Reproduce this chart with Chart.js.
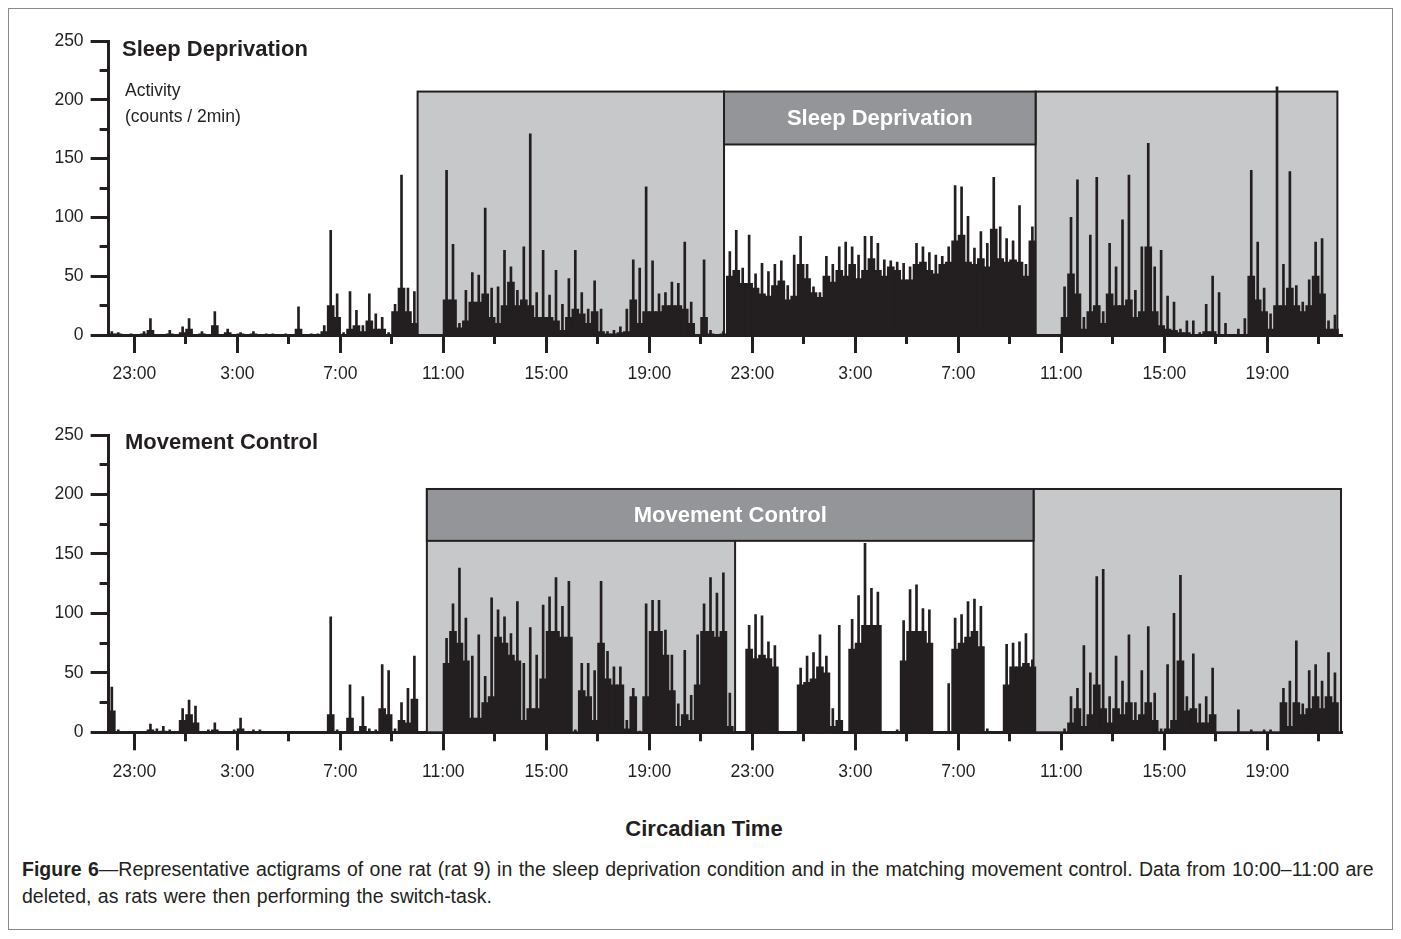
<!DOCTYPE html>
<html>
<head>
<meta charset="utf-8">
<title>Actigrams – rat 9</title>
<script src="https://cdn.jsdelivr.net/npm/chart.js@4.4.1/dist/chart.umd.min.js"></script>
<style>
  html, body { margin: 0; padding: 0; background: #fff; }
  body { width: 1401px; height: 939px; overflow: hidden; position: relative;
         font-family: "Liberation Sans", Arial, Helvetica, sans-serif; color: #231f20; }
  .frame { position: absolute; left: 8px; top: 8px; width: 1385px; height: 922px;
           border: 1px solid #8a8a8a; box-sizing: border-box; }
  canvas { position: absolute; left: 0; }
  .t { position: absolute; white-space: nowrap; line-height: 1; }
  .b { font-weight: bold; font-size: 22px; }
  .unit { font-size: 17.5px; }
  .cap { position: absolute; left: 22px; top: 856px; font-size: 19.5px; line-height: 27px;
         word-spacing: 1px; white-space: nowrap; }
</style>
</head>
<body>
<div class="frame"></div>
<canvas id="sdChart" width="1401" height="400" style="top:0px"></canvas>
<canvas id="mcChart" width="1401" height="400" style="top:398px"></canvas>

<div class="t b" style="left:122px;top:38px">Sleep Deprivation</div>
<div class="t unit" style="left:125px;top:82px">Activity</div>
<div class="t unit" style="left:125px;top:108px">(counts / 2min)</div>
<div class="t b" style="left:125px;top:431px">Movement Control</div>
<div class="t b" style="left:704px;top:818px;transform:translateX(-50%)">Circadian Time</div>
<div class="cap"><b>Figure 6</b>—Representative actigrams of one rat (rat 9) in the sleep deprivation condition and in the matching movement control. Data from 10:00–11:00 are<br>deleted, as rats were then performing the switch-task.</div>

<script>
// ---- time base: 15-min bins, first bin starts at 22:00 (hour 0) ----
const binMinutes = 15;
const axisEndHour = 47.9;
const labelledTickHours = [1, 5, 9, 13, 17, 21, 25, 29, 33, 37, 41, 45];
const minorTickHours = [3, 7, 11, 15, 19, 23, 27, 31, 35, 39, 43, 47];
const timeLabels = ['23:00', '3:00', '7:00', '11:00', '15:00', '19:00',
                    '23:00', '3:00', '7:00', '11:00', '15:00', '19:00'];

// ---- Sleep deprivation: peak counts per bin and the bulk level per bin ----
const sdPeak = [
  3,2,0,1,0,3,14,0,0,4, 0,7,14,0,3,0,20,0,5,0, 2,0,3,0,1,1,0,1,0,24,
  0,1,1,8,89,35,2,37,21,8, 35,18,15,2,26,136,40,37,
  0,0,0,0, 140,77,10,38,53,51,108,40,41,72, 58,38,75,171,36,72,34,55,26,48,
  72,36,22,46,22,3,4,7,22,64, 57,126,63,35,36,45,44,79,28,0, 64,4,0,3,
  71,89,57,85,52,61,54,60,63,42, 68,84,60,41,36,67,60,75,79,75,
  68,84,84,78,64,63,62,61,58,78, 75,70,68,67,75,127,126,101,74,88,
  78,134,92,82,80,110,60,92,
  0,0,0,0, 41,100,132,15,85,134, 20,78,58,98,136,38,75,163,58,72,
  33,28,5,12,12,2,26,50,36,10, 0,5,14,140,79,40,18,211,60,139,
  42,28,47,79,82,12,17
];
const sdBulk = [
  1,1,0,0,0,1,4,0,0,1, 0,2,5,0,1,0,8,0,2,0, 1,0,1,0,0,0,0,0,0,5,
  0,0,0,3,25,15,0,5,8,3, 12,5,5,0,20,40,20,10,
  0,0,0,0, 30,30,6,12,28,28,35,15,10,25, 45,25,30,25,15,15,15,12,4,15,
  22,18,10,20,3,1,1,2,3,30, 10,20,20,20,25,25,25,22,10,0, 15,1,0,1,
  50,55,44,44,40,35,33,42,46,30, 33,60,48,36,32,50,45,55,50,60,
  48,55,65,55,50,58,55,47,47,60, 62,55,52,60,62,80,85,62,60,65,
  58,90,65,62,64,62,50,80,
  0,0,0,0, 15,52,35,5,20,25, 10,35,25,25,30,15,20,75,20,8,
  5,4,2,2,0,0,3,3,0,0, 0,0,0,50,30,20,5,25,25,40,
  25,20,25,50,35,5,5
];

// ---- Movement control ----
const mcPeak = [
  38,2,0,0,0,0,7,3,5,2, 0,20,27,22,0,2,8,0,0,2, 12,0,2,2,0,0,0,0,0,0,
  0,0,0,0,97,2,0,40,0,30, 3,2,57,52,3,25,37,64,
  0,0,0,0,
  79,108,138,96,64,82,47,113,103,97, 83,110,58,88,65,107,114,130,106,127,
  2,58,58,52,127,68,55,55,10,37, 1,108,111,111,86,65,24,69,31,82,
  108,130,117,134,33,
  0,0,90,99,98,76,73,0,0,0, 54,64,67,82,64,20,90,0,95,115,
  159,121,118,0,0,2,94,120,124,104, 103,0,0,41,96,99,110,112,106,3,
  0,0,74,75,76,83,61,
  0,0,0,0,3,30,37,73,50,131, 137,30,64,43,82,25,52,89,33,3,
  57,100,132,30,66,24,30,54,0,0, 0,19,0,2,0,2,2,0,37,43,
  77,24,52,57,43,67,50
];
const mcBulk = [
  18,0,0,0,0,0,2,0,1,0, 0,10,15,8,0,0,2,0,0,0, 3,0,0,0,0,0,0,0,0,0,
  0,0,0,0,15,0,0,12,0,5, 0,0,20,15,0,10,8,28,
  0,0,0,0,
  58,85,75,60,12,12,25,30,80,75, 65,60,10,20,20,45,85,85,80,80,
  0,35,30,10,75,45,40,40,3,30, 0,30,85,85,65,35,5,15,10,40,
  85,85,80,85,5,
  0,0,70,62,65,62,55,0,0,0, 40,42,45,55,50,5,10,0,70,75,
  90,90,90,0,0,0,60,85,85,85, 75,0,0,0,70,75,80,85,72,0,
  0,0,40,55,55,58,55,
  0,0,0,0,0,8,20,5,15,40, 20,8,20,15,25,10,15,25,10,0,
  3,10,60,18,20,8,8,15,0,0, 0,0,0,0,0,0,0,0,25,5,
  25,15,20,30,20,30,25
];

// ---- light-phase shading and protocol banners (hours from 22:00, counts) ----
const sdLightPhases = [[12, 23.9], [36, 47.72]];
const sdBannerHours = [23.9, 36];
const sdBannerCounts = [162, 207];
const mcLightPhases = [[12.36, 24.33], [35.92, 47.86]];
const mcBannerHours = [12.36, 35.92];
const mcBannerCounts = [161, 204.6];

const INK = '#231f20';
const LIGHT = '#c7c8ca';
const DARK = '#939598';
const FONT = '"Liberation Sans", Arial, Helvetica, sans-serif';

Chart.defaults.font.family = FONT;
Chart.defaults.color = INK;

function phasePlugin(lightPhases, bannerHours, bannerCounts, label) {
  return {
    id: 'phaseBoxes',
    beforeDatasetsDraw(chart) {
      const { ctx, scales: { x, y } } = chart;
      const X = v => x.getPixelForValue(v);
      const Y = v => y.getPixelForValue(v);
      const top = bannerCounts[1];
      ctx.save();
      ctx.lineWidth = 2;
      ctx.strokeStyle = INK;
      for (const [a, b] of lightPhases) {
        ctx.fillStyle = LIGHT;
        ctx.fillRect(X(a), Y(top), X(b) - X(a), Y(0) - Y(top));
        ctx.strokeRect(X(a), Y(top), X(b) - X(a), Y(0) - Y(top));
      }
      const [a, b] = bannerHours;
      ctx.fillStyle = DARK;
      ctx.fillRect(X(a), Y(top), X(b) - X(a), Y(bannerCounts[0]) - Y(top));
      ctx.strokeRect(X(a), Y(top), X(b) - X(a), Y(bannerCounts[0]) - Y(top));
      ctx.fillStyle = '#ffffff';
      ctx.font = 'bold 22px ' + FONT;
      ctx.textAlign = 'center';
      ctx.textBaseline = 'middle';
      ctx.fillText(label, (X(a) + X(b)) / 2, (Y(top) + Y(bannerCounts[0])) / 2 + 1);
      ctx.restore();
    }
  };
}

function makePanel(id, peaks, bulk, frame, plugin) {
  const binH = binMinutes / 60;
  const pts = arr => arr.map((v, i) => ({ x: (i + 0.5) * binH, y: v }));
  const tickFont = { size: 17.5, family: FONT };
  return new Chart(document.getElementById(id), {
    type: 'bar',
    data: {
      datasets: [
        { data: pts(bulk), backgroundColor: INK, borderWidth: 0, barThickness: 7, grouped: false, order: 2 },
        { data: pts(peaks), backgroundColor: INK, borderWidth: 0, barThickness: 2, grouped: false, order: 1 }
      ]
    },
    options: {
      responsive: false,
      animation: false,
      devicePixelRatio: 1,
      layout: { padding: { left: 0, right: frame.right, top: frame.top, bottom: frame.bottom } },
      plugins: { legend: { display: false }, tooltip: { enabled: false } },
      scales: {
        x: {
          type: 'linear', position: 'bottom', min: 0, max: axisEndHour, offset: false, weight: 1,
          grid: { drawOnChartArea: false, offset: false, tickLength: 18, tickWidth: 3, tickColor: INK },
          border: { display: true, width: 3, color: INK },
          afterBuildTicks: s => { s.ticks = labelledTickHours.map(v => ({ value: v })); },
          afterFit: s => { s.height = 60; },
          ticks: { autoSkip: false, maxRotation: 0, padding: 11, color: INK, font: tickFont,
                   callback: (v, i) => timeLabels[i] }
        },
        xMinor: {
          type: 'linear', position: 'bottom', min: 0, max: axisEndHour, offset: false, weight: 0,
          grid: { drawOnChartArea: false, offset: false, tickLength: 9, tickWidth: 3, tickColor: INK },
          border: { display: false },
          ticks: { display: false },
          afterBuildTicks: s => { s.ticks = minorTickHours.map(v => ({ value: v })); },
          afterFit: s => { s.height = 0; }
        },
        y: {
          type: 'linear', position: 'left', min: 0, max: 250, weight: 1,
          grid: { drawOnChartArea: false, tickLength: 18, tickWidth: 3, tickColor: INK },
          border: { display: true, width: 3, color: INK },
          ticks: { stepSize: 50, padding: 7, color: INK, font: tickFont },
          afterFit: s => { s.width = frame.left; }
        },
        yMinor: {
          type: 'linear', position: 'left', min: 0, max: 250, weight: 0,
          grid: { drawOnChartArea: false, tickLength: 9, tickWidth: 3, tickColor: INK },
          border: { display: false },
          ticks: { display: false, stepSize: 25 },
          afterFit: s => { s.width = 0; }
        }
      }
    },
    plugins: [plugin]
  });
}

const plotLeft = 108.6, pxPerHour = 25.75;
const plotRight = 1401 - (plotLeft + axisEndHour * pxPerHour);

makePanel('sdChart', sdPeak, sdBulk,
  { left: plotLeft, right: plotRight, top: 41, bottom: 400 - 335 - 60 },
  phasePlugin(sdLightPhases, sdBannerHours, sdBannerCounts, 'Sleep Deprivation'));

makePanel('mcChart', mcPeak, mcBulk,
  { left: plotLeft, right: plotRight, top: 37, bottom: 400 - 334.3 - 60 },
  phasePlugin(mcLightPhases, mcBannerHours, mcBannerCounts, 'Movement Control'));
</script>
</body>
</html>
